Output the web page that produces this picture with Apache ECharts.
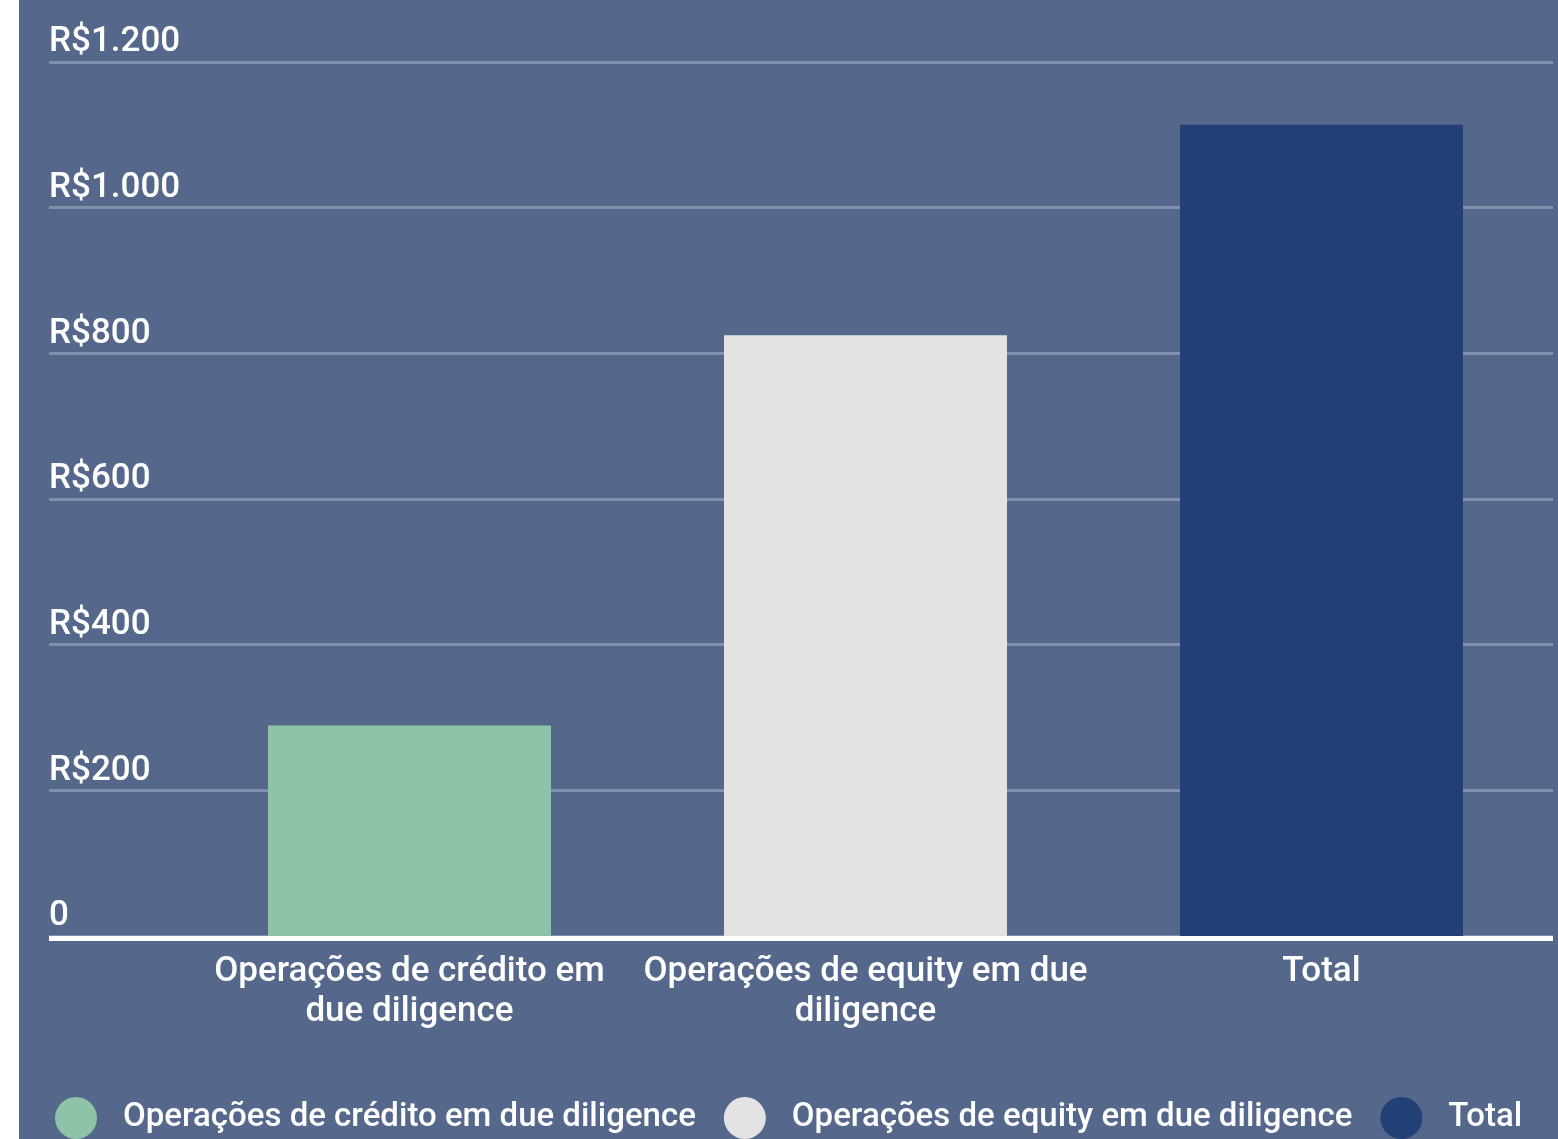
<!DOCTYPE html>
<html><head><meta charset="utf-8">
<script src="https://cdn.jsdelivr.net/npm/echarts@6/dist/echarts.min.js"></script>
<style>
html,body{margin:0;padding:0;background:#fff;}
#c{position:absolute;left:19px;top:0;width:1539px;height:1139px;background:#55688b;}
</style></head>
<body><div id="c"></div>
<script>
const seriesNames = ['Operações de crédito em due diligence', 'Operações de equity em due diligence', 'Total'];
const categoryLabels = ['Operações de crédito em\ndue diligence', 'Operações de equity em due\ndiligence', 'Total'];
const values = [289, 825, 1114];
const colors = ['#8fc3a9', '#e3e3e3', '#223f76'];
const yTicks = { min: 0, max: 1200, interval: 200 };

const fontFamily = 'Roboto';
function fmtY(v) {
  if (v === 0) return '0';
  return 'R$' + v.toLocaleString('pt-BR');
}

const chart = echarts.init(document.getElementById('c'), null, { renderer: 'canvas' });
const series = seriesNames.map((name, i) => ({
  name: name,
  type: 'bar',
  xAxisIndex: 1,
  yAxisIndex: 1,
  barWidth: 283,
  barGap: '-100%',
  itemStyle: { color: colors[i] },
  data: values.map((v, j) => (j === i ? v : '-'))
}));

chart.setOption({
  backgroundColor: '#55688b',
  animation: false,
  textStyle: { fontFamily: fontFamily },
  grid: [
    { left: 30, right: 5, top: 62, bottom: 203 },
    { left: 162.5, right: 8.5, top: 62, bottom: 203 }
  ],
  xAxis: [
    { gridIndex: 0, type: 'value', min: 0, max: 1, show: true,
      axisLine: { show: true, onZero: false, lineStyle: { color: '#ffffff', width: 5, cap: 'butt' } },
      offset: 2,
      axisTick: { show: false }, axisLabel: { show: false }, splitLine: { show: false } },
    { gridIndex: 1, type: 'category', data: categoryLabels,
      axisLine: { show: false }, axisTick: { show: false }, splitLine: { show: false },
      axisLabel: { interval: 0, hideOverlap: false, color: '#ffffff', fontSize: 35, fontWeight: 500, lineHeight: 40, margin: 16, fontFamily: fontFamily } }
  ],
  yAxis: [
    { gridIndex: 0, type: 'value', min: yTicks.min, max: yTicks.max, interval: yTicks.interval,
      axisLine: { show: false }, axisTick: { show: false },
      splitLine: { show: true, lineStyle: { color: '#8190ad', width: 3 } },
      axisLabel: { inside: true, margin: 0, color: '#ffffff', fontSize: 35, fontWeight: 500,
        verticalAlign: 'bottom', padding: [0, 0, 2, 0], formatter: fmtY, fontFamily: fontFamily } },
    { gridIndex: 1, type: 'value', min: yTicks.min, max: yTicks.max, interval: yTicks.interval, show: false,
      splitLine: { show: false } }
  ],
  legend: {
    left: 36, top: 1097, padding: 0, width: 1600,
    itemWidth: 42, itemHeight: 42, itemGap: 28, icon: 'circle',
    textStyle: { color: '#ffffff', fontSize: 33, fontWeight: 500, fontFamily: fontFamily, padding: [12, 0, 0, 21] },
    data: seriesNames
  },
  series: series
});
</script></body></html>
